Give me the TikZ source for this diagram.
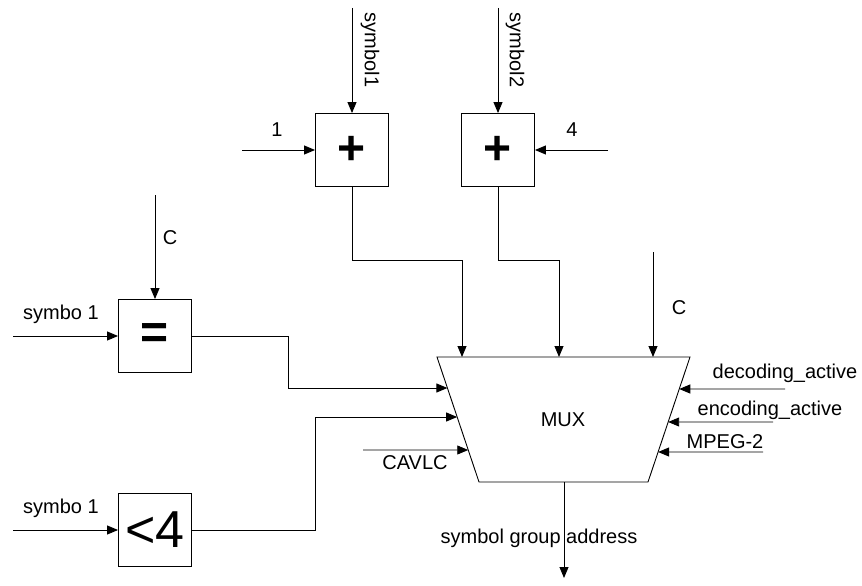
\documentclass[tikz,border=0pt]{standalone}
\usepackage{fontspec}
\setmainfont{Liberation Sans}
\usetikzlibrary{arrows.meta,calc}

\begin{document}
\begin{tikzpicture}[x=1pt,y=-1pt,
  blk/.style={rectangle,draw,line width=0.9pt,minimum width=73pt,minimum height=73pt,inner sep=0pt},
  op/.style={font=\fontsize{48}{50}\selectfont\bfseries},
  lbl/.style={inner sep=0pt,font=\fontsize{20}{24}\selectfont},
  arr/.style={-{Triangle[length=11pt,width=9pt]},line width=0.9pt}
]
  \useasboundingbox (0,0) rectangle (862,586);
  \node[blk,op] (add1) at (352,150) {+};
  \node[blk,op] (add2) at (498,150) {+};
  \node[blk,op] (eq) at (155,336) {=};
  \node[blk,font=\fontsize{52}{54}\selectfont] (lt) at (155,530) {<4};
  \coordinate (tl) at (437,357);
  \coordinate (tr) at (690,357);
  \coordinate (br) at (648,482);
  \coordinate (bl) at (479,482);
  \draw[line width=0.9pt] (tl) -- (tr) -- (br) -- (bl) -- cycle;
  \node[lbl] (mux) at (563,420) {MUX};
  \coordinate (inEq) at ($(tl)!0.248!(bl)$);
  \coordinate (inLt) at ($(tl)!0.48!(bl)$);
  \coordinate (inCavlc) at ($(tl)!0.744!(bl)$);
  \coordinate (inDec) at ($(tr)!0.256!(br)$);
  \coordinate (inEnc) at ($(tr)!0.52!(br)$);
  \coordinate (inMpeg) at ($(tr)!0.76!(br)$);
  \coordinate (inA1) at (462,357);
  \coordinate (inA2) at (559,357);
  \coordinate (inC) at (653,357);
  \coordinate (outM) at (564,482);
  \coordinate (s1) at (352,8);
  \coordinate (s2) at (498,8);
  \coordinate (one) at (242,150);
  \coordinate (four) at (608,150);
  \coordinate (c1) at (155,195);
  \coordinate (c2) at (653,252);
  \coordinate (sy1) at (13,336);
  \coordinate (sy2) at (13,530);
  \coordinate (dec) at (785,389);
  \coordinate (enc) at (773,422);
  \coordinate (mpeg) at (763,452);
  \coordinate (cavlc) at (363,450);
  \coordinate (addr) at (564,578);
  \draw[arr] (s1) -- (add1);
  \draw[arr] (s2) -- (add2);
  \draw[arr] (one) -- (add1);
  \draw[arr] (four) -- (add2);
  \draw[arr] (c1) -- (eq);
  \draw[arr] (sy1) -- (eq);
  \draw[arr] (sy2) -- (lt);
  \draw[arr] (add1.south) -- ++(0,73) -| (inA1);
  \draw[arr] (add2.south) -- ++(0,73) -| (inA2);
  \draw[arr] (c2) -- (inC);
  \draw[arr] (eq.east) -- ++(96,0) |- (inEq);
  \draw[arr] (lt.east) -- ++(123,0) |- (inLt);
  \draw[arr] (cavlc) -- (inCavlc);
  \draw[arr] (dec) -- (inDec);
  \draw[arr] (enc) -- (inEnc);
  \draw[arr] (mpeg) -- (inMpeg);
  \draw[arr] (outM) -- (addr);
  \node[lbl,rotate=-90] (ls1) at (370,50) {symbol1};
  \node[lbl,rotate=-90] (ls2) at (515,50) {symbol2};
  \node[lbl] (lone) at (277,130) {1};
  \node[lbl] (lfour) at (572,130) {4};
  \node[lbl] (lc1) at (170,238) {C};
  \node[lbl] (lc2) at (679,308) {C};
  \node[lbl] (lsy1) at (61,314) {symbo 1};
  \node[lbl] (lsy2) at (61,508) {symbo 1};
  \node[lbl] (ldec) at (785,373) {decoding\_active};
  \node[lbl] (lenc) at (770,410) {encoding\_active};
  \node[lbl] (lmpeg) at (725,442) {MPEG-2};
  \node[lbl] (lcavlc) at (415,463) {CAVLC};
  \node[lbl] (laddr) at (539,538) {symbol group address};
\end{tikzpicture}
\end{document}
